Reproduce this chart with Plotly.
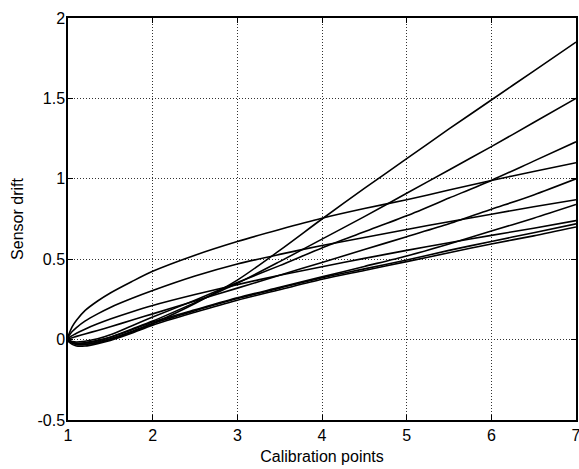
import plotly.graph_objects as go

# shared sample positions along the x axis (calibration points)
x_pts = [1, 1.05, 1.1, 1.2, 1.35, 1.5, 1.75, 2, 2.5, 3, 3.5, 4, 4.5, 5, 5.5, 6, 6.5, 7]

# sensor-drift curves
drift_a = [0.0, -0.02, -0.03, -0.03, -0.02, 0.0, 0.045, 0.10, 0.225, 0.37, 0.555, 0.75, 0.94, 1.125, 1.31, 1.49, 1.67, 1.85]
drift_b = [0.0, -0.02, -0.025, -0.022, -0.008, 0.015, 0.065, 0.115, 0.23, 0.35, 0.485, 0.625, 0.765, 0.91, 1.055, 1.2, 1.35, 1.5]
drift_c = [0.0, -0.012, -0.015, -0.01, 0.005, 0.03, 0.085, 0.14, 0.245, 0.355, 0.46, 0.57, 0.67, 0.77, 0.88, 0.99, 1.11, 1.23]
drift_d = [0.02, 0.08, 0.12, 0.18, 0.24, 0.29, 0.36, 0.425, 0.525, 0.61, 0.685, 0.755, 0.815, 0.87, 0.93, 0.99, 1.045, 1.10]
drift_e = [0.005, 0.012, 0.02, 0.035, 0.057, 0.08, 0.12, 0.16, 0.24, 0.32, 0.40, 0.48, 0.56, 0.64, 0.72, 0.81, 0.90, 1.0]
drift_f = [0.015, 0.05, 0.075, 0.115, 0.16, 0.2, 0.255, 0.305, 0.395, 0.47, 0.53, 0.585, 0.635, 0.685, 0.733, 0.78, 0.826, 0.87]
drift_g = [0.0, -0.015, -0.022, -0.02, -0.005, 0.015, 0.06, 0.11, 0.185, 0.26, 0.325, 0.39, 0.455, 0.52, 0.595, 0.675, 0.755, 0.84]
drift_h = [0.01, 0.025, 0.04, 0.065, 0.098, 0.128, 0.172, 0.212, 0.28, 0.342, 0.4, 0.453, 0.505, 0.555, 0.602, 0.648, 0.693, 0.74]
drift_i = [0.0, -0.02, -0.03, -0.03, -0.015, 0.005, 0.05, 0.10, 0.18, 0.255, 0.32, 0.385, 0.44, 0.495, 0.555, 0.61, 0.665, 0.72]
drift_j = [-0.01, -0.03, -0.04, -0.04, -0.025, -0.005, 0.04, 0.09, 0.17, 0.245, 0.31, 0.375, 0.43, 0.485, 0.54, 0.595, 0.645, 0.70]

x_ticks = [1, 2, 3, 4, 5, 6, 7]
y_ticks = [-0.5, 0, 0.5, 1, 1.5, 2]
y_tick_text = ["-0.5", "0", "0.5", "1", "1.5", "2"]

curves = [drift_a, drift_b, drift_c, drift_d, drift_e, drift_f, drift_g, drift_h, drift_i, drift_j]

fig = go.Figure()
for ys in curves:
    fig.add_trace(go.Scatter(x=x_pts, y=ys, mode="lines",
                             line=dict(color="black", width=1.6, shape="spline", smoothing=0.8),
                             showlegend=False, hoverinfo="skip"))

font = dict(family="Liberation Sans, Arial, sans-serif", size=16, color="black")

fig.update_layout(
    width=579, height=469,
    margin=dict(l=68, r=3, t=18, b=49),
    paper_bgcolor="white", plot_bgcolor="white",
    font=font,
    showlegend=False,
)
fig.update_xaxes(
    range=[1, 7], tickvals=x_ticks, ticktext=[str(v) for v in x_ticks],
    showgrid=True, gridcolor="#333333", griddash="1px,2px", gridwidth=1,
    showline=True, linecolor="black", linewidth=1.5, mirror="allticks",
    ticks="inside", ticklen=5, tickcolor="black", zeroline=False,
    automargin=False, ticklabeloverflow="allow",
    title=dict(text="Calibration points", standoff=8, font=font),
    tickfont=font,
)
fig.update_yaxes(
    range=[-0.5, 2], tickvals=y_ticks, ticktext=y_tick_text,
    showgrid=True, gridcolor="#333333", griddash="1px,2px", gridwidth=1,
    showline=True, linecolor="black", linewidth=1.5, mirror="allticks",
    ticks="inside", ticklen=5, tickcolor="black", zeroline=False,
    automargin=False, ticklabelstandoff=-2, ticklabeloverflow="allow",
    title=dict(text="Sensor drift", standoff=10, font=font),
    tickfont=font,
)

# remove the page's default body margin so the 579x469 figure fills the window exactly
fig.write_html("out.html",
               config={"displayModeBar": False},
               post_script="document.body.style.margin='0';document.body.style.overflow='hidden';")
